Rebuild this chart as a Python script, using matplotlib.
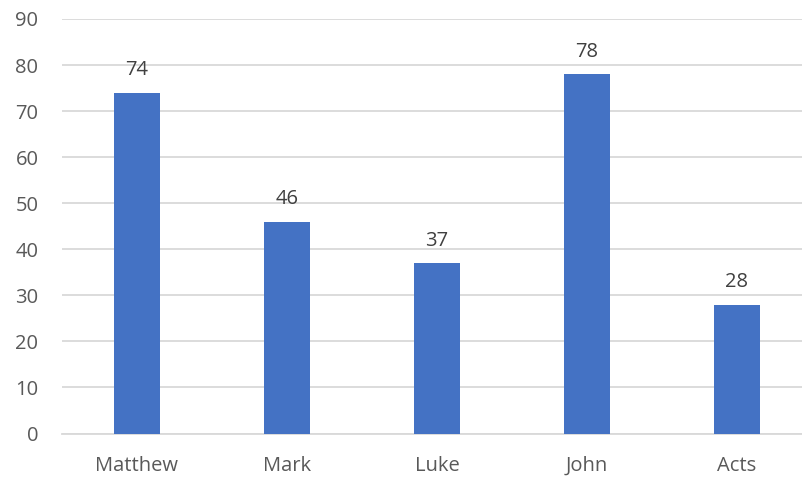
import matplotlib.pyplot as plt

# datos
books = ['Matthew', 'Mark', 'Luke', 'John', 'Acts']
counts = [74, 46, 37, 78, 28]
yticks = list(range(0, 91, 10))

plt.rcParams['font.family'] = ['Open Sans', 'DejaVu Sans']

fig = plt.figure(figsize=(8.03, 4.79), dpi=100)
# el area de dibujo se sale un poco por la derecha, como en el original
ax = fig.add_axes([62 / 803, 1 - 433.5 / 479, 750 / 803, (433.5 - 19) / 479])

bars = ax.bar(books, counts, width=0.313, color='#4472C4', zorder=3)

# etiquetas de los valores encima de las barras
for rect, v in zip(bars, counts):
    ax.annotate(str(v), (rect.get_x() + rect.get_width() / 2, v),
                xytext=(0, 9), textcoords='offset points',
                ha='center', va='bottom', fontsize=14.5, color='#404040')

ax.set_ylim(0, 90)
ax.set_xlim(-0.5, 4.5)
ax.set_yticks(yticks)
ax.yaxis.grid(True, color='#D9D9D9', linewidth=1.3, zorder=0)
ax.set_axisbelow(True)

for s in ['top', 'right', 'left']:
    ax.spines[s].set_visible(False)
ax.spines['bottom'].set_color('#D9D9D9')
ax.spines['bottom'].set_linewidth(1.3)

ax.tick_params(axis='both', length=0, labelsize=14.5, colors='#595959')
ax.tick_params(axis='y', pad=17)
ax.tick_params(axis='x', pad=16)

fig.savefig('out.png', dpi=100)
